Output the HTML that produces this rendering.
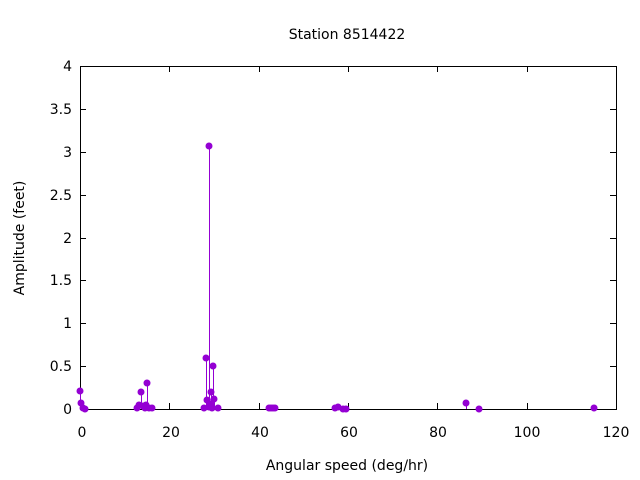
<!DOCTYPE html>
<html><head><style>body{margin:0;background:#fff}svg{display:block}text{font-family:"DejaVu Sans","Liberation Sans",sans-serif;font-size:14px;fill:#000}</style></head><body>
<svg width="640" height="480" xmlns="http://www.w3.org/2000/svg">
<rect x="80.5" y="66.5" width="536" height="343" fill="none" stroke="#000" stroke-width="1"/>
<g stroke="#000">
<path d="M80 409.5h6M80 366.5h6M80 323.5h6M80 280.5h6M80 238.5h6M80 195.5h6M80 152.5h6M80 109.5h6M80 66.5h6"/>
<path d="M616 409.5h-6M616 366.5h-6M616 323.5h-6M616 280.5h-6M616 238.5h-6M616 195.5h-6M616 152.5h-6M616 109.5h-6"/>
<path d="M169.5 409v-6M259.5 409v-6M348.5 409v-6M437.5 409v-6M527.5 409v-6M169.5 66v6M259.5 66v6M348.5 66v6M437.5 66v6M527.5 66v6"/>
</g>
<g text-anchor="end">
<text x="72" y="414">0</text><text x="72" y="371">0.5</text><text x="72" y="328">1</text><text x="72" y="285">1.5</text><text x="72" y="243">2</text><text x="72" y="200">2.5</text><text x="72" y="157">3</text><text x="72" y="114">3.5</text><text x="72" y="71">4</text>
</g>
<g text-anchor="middle">
<text x="82" y="437">0</text><text x="171" y="437">20</text><text x="260" y="437">40</text><text x="349" y="437">60</text><text x="438" y="437">80</text><text x="527" y="437">100</text><text x="616" y="437">120</text>
<text x="347" y="470">Angular speed (deg/hr)</text>
<text x="347" y="39">Station 8514422</text>
<text transform="translate(24,238) rotate(-90)">Amplitude (feet)</text>
</g>
<g stroke="#9400d3" stroke-width="1">
<path d="M80.5 409V391M80.5 409V403M141.5 409V392M147.5 409V383M139.5 409V405M146.5 409V405M143.5 409V406M206.5 409V358M207.5 409V400M209.5 409V146M211.5 409V392M210.5 409V404M213.5 409V366M214.5 409V399M466.5 409V403"/>
</g>
<g fill="#9400d3">
<circle cx="80" cy="391" r="3.5"/><circle cx="81" cy="403" r="3.5"/><circle cx="83" cy="408" r="3.5"/><circle cx="85" cy="409" r="3.5"/>
<circle cx="137" cy="408" r="3.5"/><circle cx="139" cy="405" r="3.5"/><circle cx="141" cy="392" r="3.5"/><circle cx="143" cy="406" r="3.5"/><circle cx="146" cy="405" r="3.5"/><circle cx="147" cy="383" r="3.5"/><circle cx="149" cy="408" r="3.5"/><circle cx="152" cy="408" r="3.5"/><circle cx="145" cy="408" r="3.5"/>
<circle cx="204" cy="408" r="3.5"/><circle cx="206" cy="358" r="3.5"/><circle cx="207" cy="400" r="3.5"/><circle cx="209" cy="146" r="3.5"/><circle cx="211" cy="392" r="3.5"/><circle cx="210" cy="404" r="3.5"/><circle cx="213" cy="366" r="3.5"/><circle cx="214" cy="399" r="3.5"/><circle cx="212" cy="408" r="3.5"/><circle cx="209" cy="407" r="3.5"/><circle cx="218" cy="408" r="3.5"/>
<circle cx="269" cy="408" r="3.5"/><circle cx="271" cy="408" r="3.5"/><circle cx="273" cy="408" r="3.5"/><circle cx="275" cy="408" r="3.5"/>
<circle cx="335" cy="408" r="3.5"/><circle cx="338" cy="407" r="3.5"/><circle cx="343" cy="409" r="3.5"/><circle cx="346" cy="409" r="3.5"/>
<circle cx="466" cy="403" r="3.5"/><circle cx="479" cy="409" r="3.5"/><circle cx="594" cy="408" r="3.5"/>
</g>
</svg>
</body></html>
